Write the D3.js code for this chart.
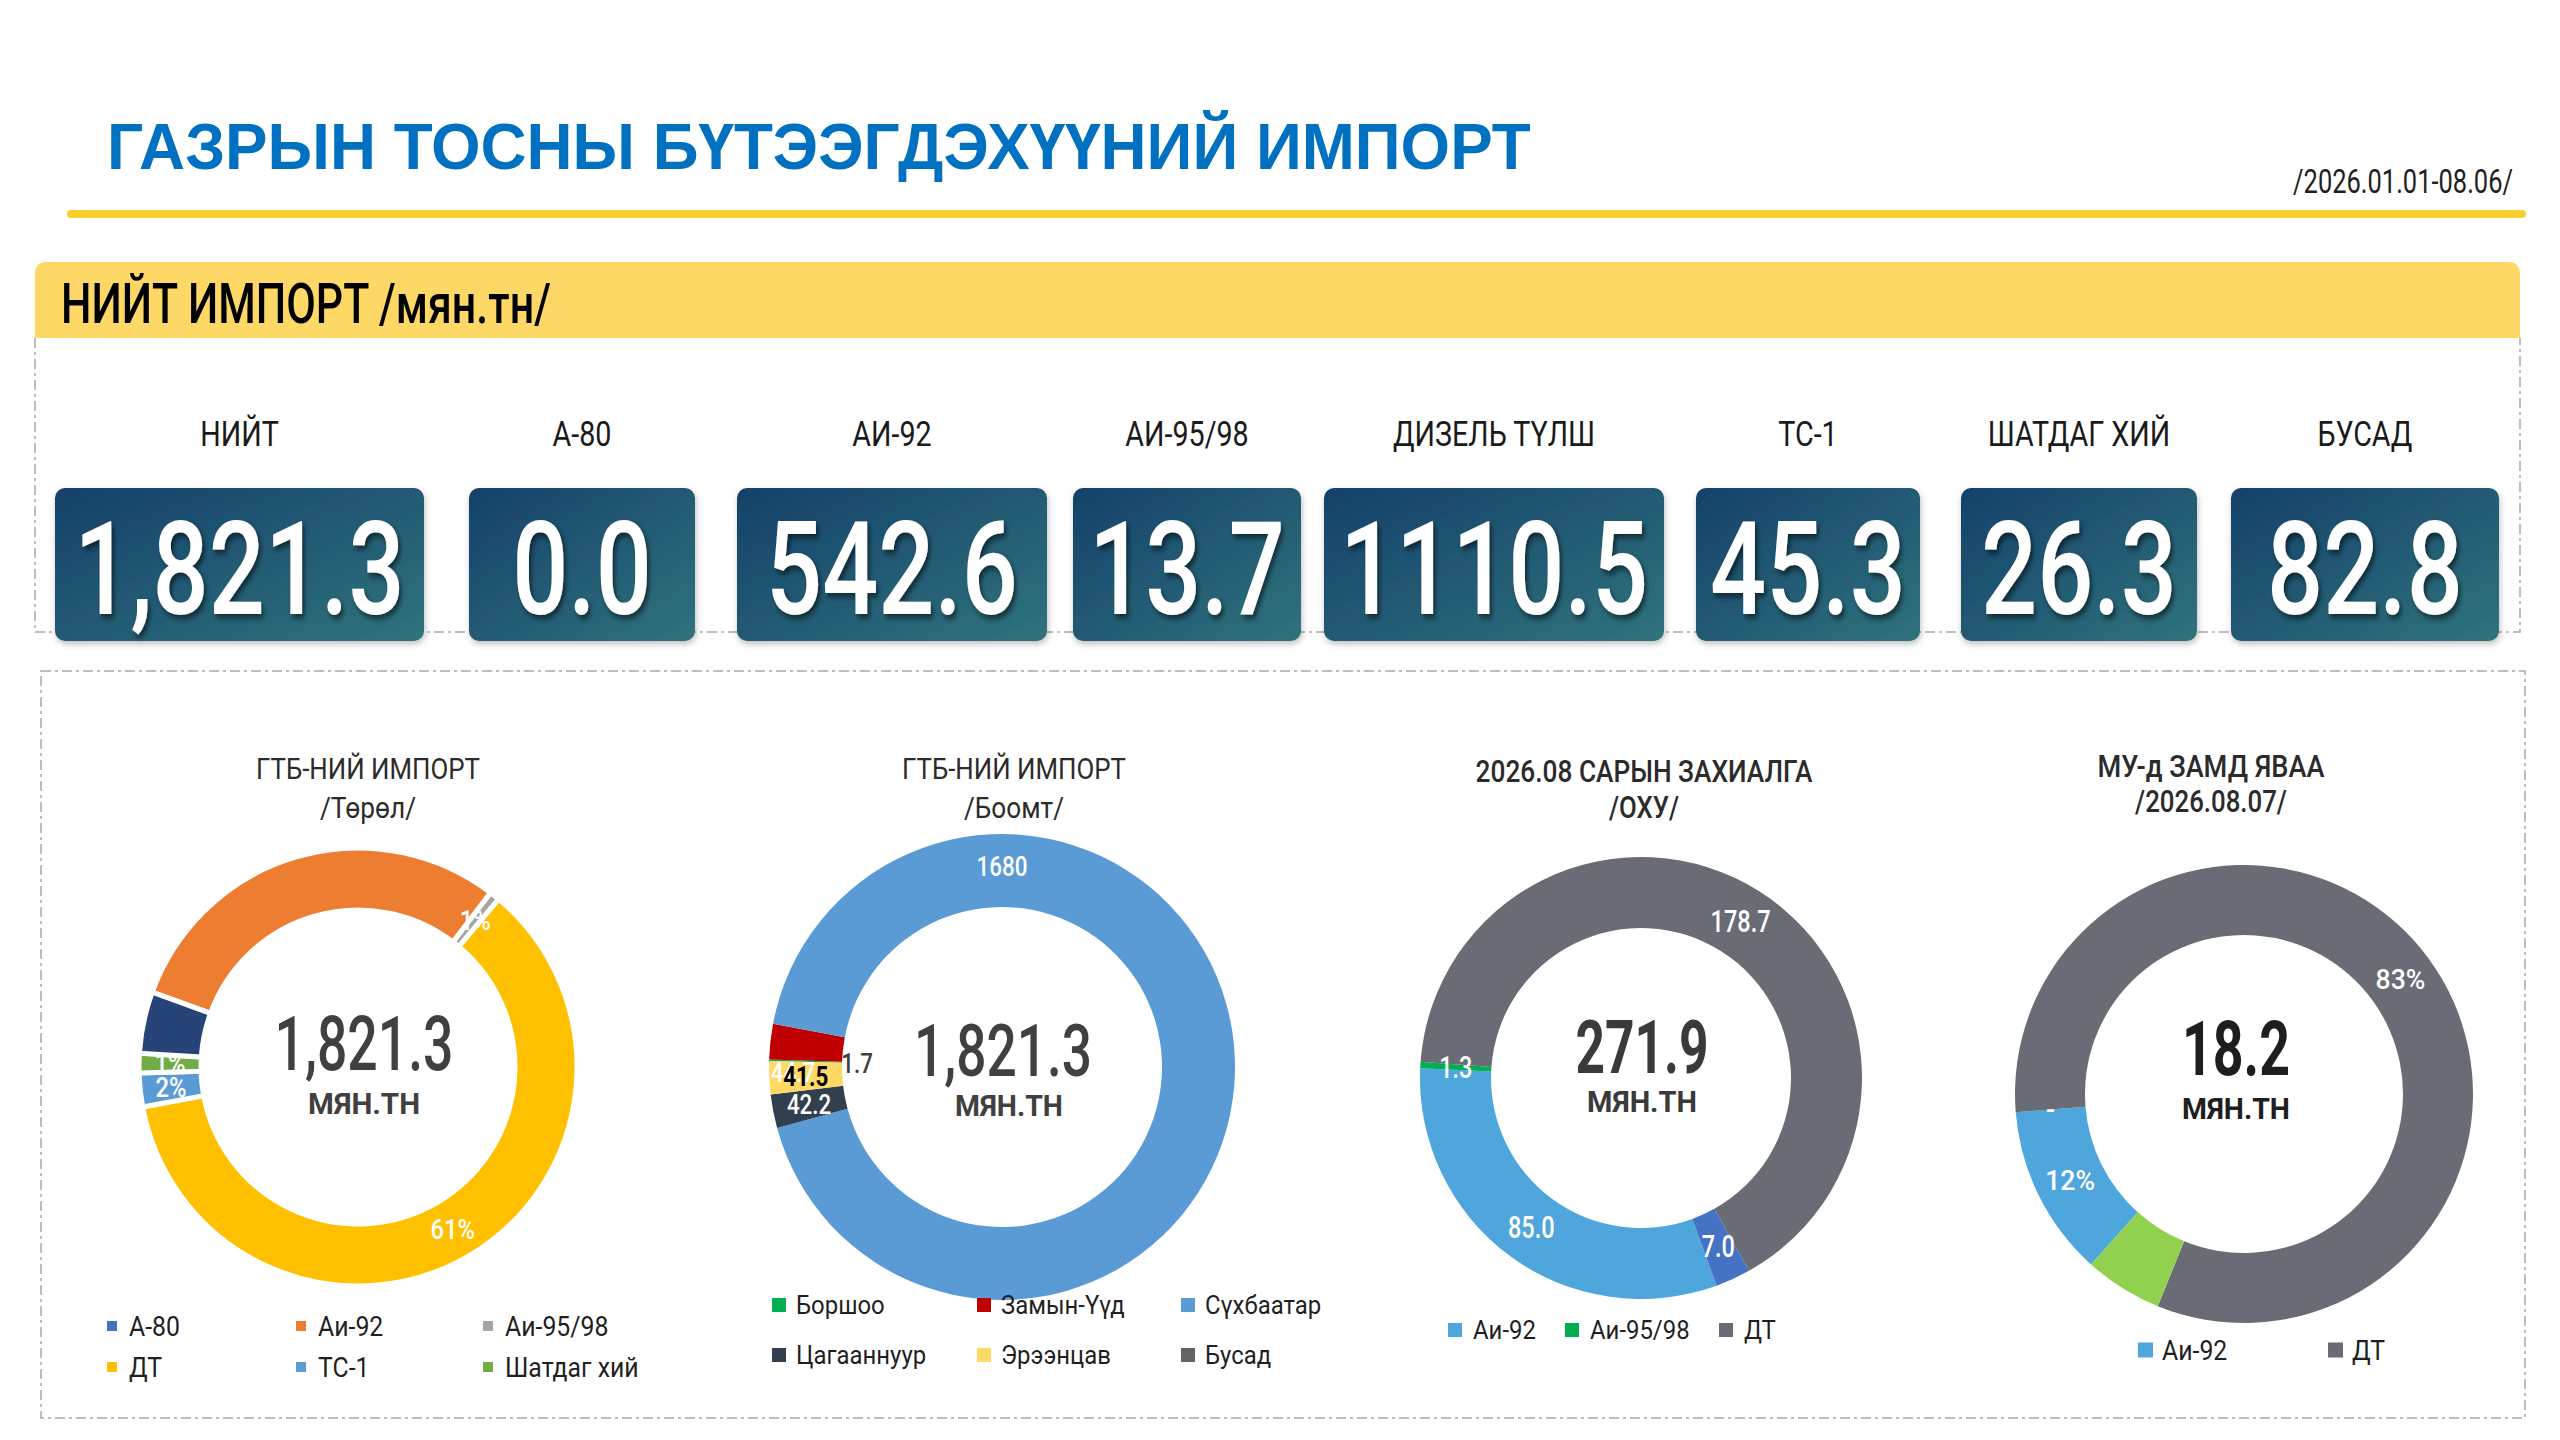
<!DOCTYPE html>
<meta charset="utf-8">
<style>
body { margin: 0; background: #fff; }
text { font-family: Roboto, "Noto Sans", sans-serif; }
</style>
<body>
<div id="chart"></div>
<script src="https://cdn.jsdelivr.net/npm/d3@7"></script>
<script>

// ---- data ----
var tileNames  = ["НИЙТ", "А-80", "АИ-92", "АИ-95/98", "ДИЗЕЛЬ ТҮЛШ", "ТС-1", "ШАТДАГ ХИЙ", "БУСАД"];
var tileValues = [1821.3, 0.0, 542.6, 13.7, 1110.5, 45.3, 26.3, 82.8];

// ГТБ-НИЙ ИМПОРТ /Төрөл/
var typeNames  = ["А-80", "Аи-92", "Аи-95/98", "ДТ", "ТС-1", "Шатдаг хий", "Бусад"];
var typeValues = [0.0, 542.6, 13.7, 1110.5, 45.3, 26.3, 82.8];
var typeLabels = ["", "", "1%", "61%", "2%", "1%", ""];
var typeColors = ["#4472C4", "#ED7D31", "#A5A5A5", "#FFC000", "#5B9BD5", "#70AD47", "#264478"];

// ГТБ-НИЙ ИМПОРТ /Боомт/
var portNames  = ["Боршоо", "Замын-Үүд", "Сүхбаатар", "Цагааннуур", "Эрээнцав", "Бусад"];
var portValues = [1.7, 44.7, 1680, 42.2, 41.5, 0];
var portLabels = ["1.7", "44.7", "1680", "42.2", "41.5", ""];
var portColors = ["#00B050", "#C00000", "#5B9BD5", "#323F4F", "#FFD966", "#636363"];

// 2026.08 САРЫН ЗАХИАЛГА /ОХУ/
var orderNames  = ["Аи-92", "Аи-95/98", "ДТ", "ТС-1"];
var orderValues = [85.0, 1.3, 178.7, 7.0];
var orderLabels = ["85.0", "1.3", "178.7", "7.0"];
var orderColors = ["#4FA6DD", "#00B050", "#696B75", "#4472C4"];

// МУ-д ЗАМД ЯВАА /2026.08.07/
var transitNames  = ["Аи-92", "Аи-95/98", "ДТ", "Бусад"];
var transitValues = [2.2, 0, 15.0, 1.0];
var transitLabels = ["12%", "-", "83%", ""];
var transitColors = ["#4FA6DD", "#00B050", "#696B75", "#92D050"];

var donutTotals = [1821.3, 1821.3, 271.9, 18.2];

// ---- page ----
var W = 2560, H = 1440;
var svg = d3.select("#chart").append("svg").attr("width", W).attr("height", H);
var defs = svg.append("defs");

var grad = defs.append("linearGradient").attr("id", "tileGrad")
    .attr("x1", 0).attr("y1", 0).attr("x2", 1).attr("y2", 1);
grad.append("stop").attr("offset", "0%").attr("stop-color", "#15416A");
grad.append("stop").attr("offset", "100%").attr("stop-color", "#2F737C");

var fs = defs.append("filter").attr("id", "numShadow")
    .attr("x", "-20%").attr("y", "-20%").attr("width", "140%").attr("height", "140%");
fs.append("feDropShadow").attr("dx", 3).attr("dy", 4).attr("stdDeviation", 3)
    .attr("flood-color", "#000").attr("flood-opacity", 0.55);
var ft = defs.append("filter").attr("id", "tileShadow")
    .attr("x", "-10%").attr("y", "-10%").attr("width", "120%").attr("height", "130%");
ft.append("feDropShadow").attr("dx", 1).attr("dy", 3).attr("stdDeviation", 3)
    .attr("flood-color", "#000").attr("flood-opacity", 0.25);

// text with horizontal squeeze (w = fit to width, sx = fixed factor)
function label(g, str, x, y, o) {
  var t = g.append("text")
    .attr("text-anchor", o.anchor || "middle")
    .style("font-family", o.font || "Roboto")
    .style("font-size", o.size + "px")
    .style("font-weight", o.weight || 400)
    .style("fill", o.fill || "#262626")
    .text(str);
  if (o.dy) t.attr("dy", o.dy);
  var len = t.node().getComputedTextLength() || 1;
  var sx = o.w ? o.w / len : (o.sx || 1);
  t.attr("transform", "translate(" + x + "," + y + ") scale(" + sx + ",1)");
  return t;
}

// header
label(svg, "ГАЗРЫН ТОСНЫ БҮТЭЭГДЭХҮҮНИЙ ИМПОРТ", 107, 169,
  {anchor: "start", font: "Liberation Sans", weight: 700, size: 65, fill: "#0070C0", w: 1424});
label(svg, "/2026.01.01-08.06/", 2513, 193, {anchor: "end", size: 33, fill: "#1F1F1F", w: 220});
svg.append("line").attr("x1", 71).attr("x2", 2522).attr("y1", 214).attr("y2", 214)
  .attr("stroke", "#F8CF2E").attr("stroke-width", 8).attr("stroke-linecap", "round");

// yellow band with rounded top corners
var bx = 35, by = 262, bw = 2485, bh = 76, br = 12;
svg.append("path")
  .attr("d", "M" + bx + "," + (by + bh) + "V" + (by + br) + "Q" + bx + "," + by + " " + (bx + br) + "," + by +
    "H" + (bx + bw - br) + "Q" + (bx + bw) + "," + by + " " + (bx + bw) + "," + (by + br) + "V" + (by + bh) + "Z")
  .attr("fill", "#FDD866");
label(svg, "НИЙТ ИМПОРТ /мян.тн/", 61, 323, {anchor: "start", size: 55, weight: 500, fill: "#000", w: 490});

var dash = "10,4,3,4";
svg.append("path").attr("d", "M35,338V632H2520V338")
  .attr("fill", "none").attr("stroke", "#A9A9A9").attr("stroke-width", 1.5).attr("stroke-dasharray", dash);
svg.append("rect").attr("x", 41).attr("y", 671).attr("width", 2484).attr("height", 747)
  .attr("fill", "none").attr("stroke", "#A9A9A9").attr("stroke-width", 1.5).attr("stroke-dasharray", dash);

// tiles
var tileEdges = [[55, 424], [469, 695], [737, 1047], [1073, 1301], [1324, 1664], [1696, 1920], [1961, 2197], [2231, 2499]];
var tileTop = 488, tileBottom = 641;
var tiles = svg.append("g");
tileValues.forEach(function(v, i) {
  var e = tileEdges[i], cx = (e[0] + e[1]) / 2;
  var fmt = i === 0 ? d3.format(",.1f") : d3.format(".1f");
  tiles.append("rect").attr("x", e[0]).attr("y", tileTop)
    .attr("width", e[1] - e[0]).attr("height", tileBottom - tileTop)
    .attr("rx", 10).attr("fill", "url(#tileGrad)").attr("filter", "url(#tileShadow)");
  label(tiles, fmt(v), cx, 614, {size: 130, weight: 500, fill: "#fff", sx: 0.76})
    .attr("filter", "url(#numShadow)");
  label(tiles, tileNames[i], cx, 446, {size: 35, fill: "#1A1A1A", sx: 0.82});
});

// donuts
var charts = [
  {names: typeNames, values: typeValues, labels: typeLabels, colors: typeColors,
   cx: 358, cy: 1067, ro: 219, ri: 157, start: 290, stroke: 5,
   title: ["ГТБ-НИЙ ИМПОРТ", "/Төрөл/"], titleX: 368, titleY: [779, 818], titleW: [224, 96], titleSize: 30, titleWeight: 400,
   labelSize: 28, labelSx: 0.85, labelFill: function() { return "#fff"; }, labelWeight: function() { return 500; },
   moves: {},
   numX: 364, numY: 1070, numW: 179, numSize: 76, numWeight: 500, unitY: 1114, unitW: 112, centerFill: "#404040",
   legend: [0, 1, 2, 3, 4, 5], legX: [107, 296, 483], legY: [1326, 1367], sq: 10, legGap: 22, legSize: 27},
  {names: portNames, values: portValues, labels: portLabels, colors: portColors,
   cx: 1002, cy: 1067, ro: 233, ri: 160, start: 271.5, stroke: 0,
   title: ["ГТБ-НИЙ ИМПОРТ", "/Боомт/"], titleX: 1014, titleY: [779, 818], titleW: [224, 100], titleSize: 30, titleWeight: 400,
   labelSize: 28, labelSx: 0.8,
   labelFill: function(i) { return i === 0 ? "#404040" : i === 4 ? "#000" : "#fff"; },
   labelWeight: function(i) { return i === 4 ? 700 : 500; },
   moves: {0: {r: 145}, 1: {a: 268.6, r: 209}, 2: {a: 0, r: 201}},
   numX: 1003, numY: 1076, numW: 178, numSize: 73, numWeight: 500, unitX: 1009, unitY: 1116, unitW: 108, centerFill: "#404040",
   legend: [0, 1, 2, 3, 4, 5], legX: [772, 977, 1181], legY: [1305, 1355], sq: 14, legGap: 24, legSize: 26},
  {names: orderNames, values: orderValues, labels: orderLabels, colors: orderColors,
   cx: 1641, cy: 1078, ro: 221, ri: 150, start: 160, stroke: 0,
   title: ["2026.08 САРЫН ЗАХИАЛГА", "/ОХУ/"], titleX: 1644, titleY: [782, 818], titleW: [337, 70], titleSize: 31, titleWeight: 500,
   labelSize: 31, labelSx: 0.76, labelFill: function() { return "#fff"; }, labelWeight: function() { return 500; },
   moves: {},
   numX: 1642, numY: 1073, numW: 133, numSize: 74, numWeight: 700, unitY: 1112, unitW: 110, centerFill: "#3A3A3A",
   legend: [0, 1, 2], legX: [1448, 1565, 1719], legY: [1330], sq: 14, legGap: 25, legSize: 26},
  {names: transitNames, values: transitValues, labels: transitLabels, colors: transitColors,
   cx: 2244, cy: 1094, ro: 229, ri: 159, start: 221.9, stroke: 0,
   title: ["МУ-д ЗАМД ЯВАА", "/2026.08.07/"], titleX: 2211, titleY: [777, 812], titleW: [227, 152], titleSize: 31, titleWeight: 500,
   labelSize: 28, labelSx: 0.95, labelFill: function() { return "#fff"; }, labelWeight: function() { return 500; },
   moves: {},
   numX: 2236, numY: 1075, numW: 108, numSize: 76, numWeight: 700, unitY: 1119, unitW: 108, centerFill: "#1E1E1E",
   legend: [0, 2], legX: [2138, 2328], legY: [1350], sq: 15, legGap: 24, legSize: 27}
];

var rad = Math.PI / 180;

charts.forEach(function(c, ci) {
  var g = svg.append("g");
  var pie = d3.pie().sort(null).value(function(d) { return d; })
    .startAngle(c.start * rad).endAngle(c.start * rad + 2 * Math.PI);
  var arc = d3.arc().innerRadius(c.ri).outerRadius(c.ro);
  var arcs = pie(c.values);

  var ring = g.append("g").attr("transform", "translate(" + c.cx + "," + c.cy + ")");
  ring.selectAll("path").data(arcs).enter().append("path")
    .attr("d", arc)
    .attr("fill", function(d, i) { return c.colors[i]; })
    .attr("stroke", c.stroke ? "#fff" : "none")
    .attr("stroke-width", c.stroke);

  // slice labels
  arcs.forEach(function(a, i) {
    if (!c.labels[i]) return;
    var m = c.moves[i] || {};
    var ang = m.a != null ? m.a * rad : (a.startAngle + a.endAngle) / 2;
    var r = m.r != null ? m.r : (c.ri + c.ro) / 2;
    label(g, c.labels[i], c.cx + r * Math.sin(ang), c.cy - r * Math.cos(ang),
      {size: c.labelSize, sx: c.labelSx, fill: c.labelFill(i), weight: c.labelWeight(i), dy: "0.35em"});
  });

  // center total
  label(g, d3.format(",.1f")(donutTotals[ci]), c.numX, c.numY,
    {size: c.numSize, weight: c.numWeight, fill: c.centerFill, w: c.numW});
  label(g, "МЯН.ТН", c.unitX || c.numX, c.unitY,
    {size: 30, weight: 700, fill: c.centerFill, w: c.unitW});

  // title
  c.title.forEach(function(s, k) {
    label(g, s, c.titleX, c.titleY[k], {size: c.titleSize, weight: c.titleWeight, fill: "#2B2B2B", w: c.titleW[k]});
  });

  // legend
  c.legend.forEach(function(idx, k) {
    var col = k % c.legX.length, row = Math.floor(k / c.legX.length);
    var x = c.legX[col], y = c.legY[row];
    g.append("rect").attr("x", x).attr("y", y - c.sq / 2)
      .attr("width", c.sq).attr("height", c.sq).attr("fill", c.colors[idx]);
    label(g, c.names[idx], x + c.legGap, y, {anchor: "start", size: c.legSize, fill: "#1F1F1F", sx: 0.92, dy: "0.36em"});
  });
});

</script>
</body>
